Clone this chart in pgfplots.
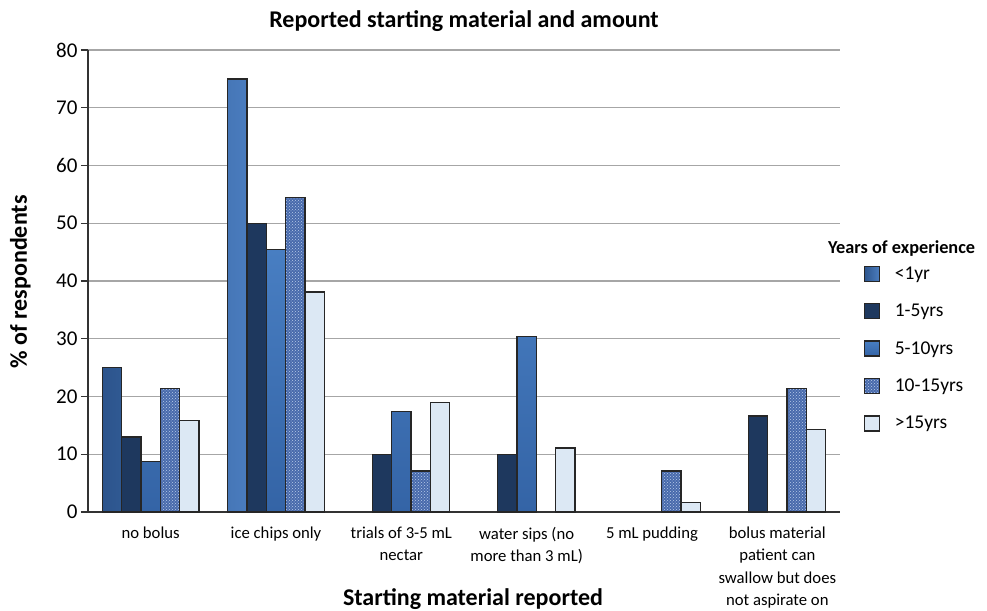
\documentclass[border=0pt]{standalone}
\usepackage{pgfplots}
\pgfplotsset{compat=1.18}
\usepackage{fontspec}
\setmainfont{Carlito}
\usetikzlibrary{patterns}
\definecolor{cA1}{RGB}{44,84,140}
\definecolor{cA2}{RGB}{74,124,190}
\definecolor{cB}{RGB}{30,56,94}
\definecolor{cC1}{RGB}{72,126,194}
\definecolor{cC2}{RGB}{52,100,166}
\definecolor{cD}{RGB}{72,106,172}
\definecolor{cDs}{RGB}{185,203,232}
\definecolor{cE}{RGB}{220,232,244}
\definecolor{gridc}{RGB}{166,166,166}
\begin{document}
\begin{tikzpicture}
\path[use as bounding box] (-88pt,-98pt) rectangle (899pt,512pt);
\begin{axis}[
  at={(0pt,0pt)}, anchor=south west,
  scale only axis, width=752pt, height=462pt,
  ymin=0, ymax=80, ytick={0,10,...,80},
  xmin=-0.5, xmax=5.5,
  xtick={0,1,2,3,4,5},
  xticklabels={no bolus, ice chips only, {trials of 3-5 mL\\nectar}, {water sips (no\\more than 3 mL)}, 5 mL pudding, {bolus material\\patient can\\swallow but does\\not aspirate on}},
  xticklabel style={align=center, font=\fontsize{16.7}{22.2}\selectfont, anchor=north, yshift=-4.5pt},
  xtick style={draw=none},
  yticklabel style={font=\fontsize{21}{23}\selectfont},
  /pgf/number format/assume math mode=true,
  axis x line*=bottom, axis y line*=left,
  axis line style={draw=black!80, line width=1.3pt},
  ytick style={draw=black!80, line width=1.3pt},
  tick align=outside, major tick length=7pt,
  ymajorgrids, major grid style={draw=gridc, line width=1.3pt},
  ybar=0pt, bar width=0.154,
  title={\bfseries Reported starting material and amount},
  title style={at={(0.5,1.05)}, anchor=center, font=\fontsize{24}{26}\selectfont},
  xlabel={\bfseries Starting material reported},
  xlabel style={at={(axis description cs:0.512,-0.188)}, anchor=center, font=\fontsize{24}{26}\selectfont},
  ylabel={\bfseries \% of respondents},
  ylabel style={at={(axis description cs:-0.09,0.498)}, anchor=center, font=\fontsize{24}{26}\selectfont},
  clip=false,
  legend style={at={(rel axis cs:1.027,0.54)}, anchor=north west, draw=none, fill=none,
    font=\fontsize{19.5}{22}\selectfont, row sep=19.3pt, cells={anchor=west}},
  legend image code/.code={\draw[#1, line width=1.3pt] (0pt,-7.5pt) rectangle (15pt,7.5pt); \path (28pt,0pt);},
]
\addplot+[draw=black!85, line width=1.3pt, left color=cA1, right color=cA2] coordinates {(0,25) (1,75)};
\addplot+[draw=black!85, line width=1.3pt, fill=cB] coordinates {(0,13) (1,50) (2,10) (3,10) (5,16.6)};
\addplot+[draw=black!85, line width=1.3pt, top color=cC1, bottom color=cC2] coordinates {(0,8.7) (1,45.5) (2,17.4) (3,30.4)};
\addplot+[draw=black!85, line width=1.3pt, fill=cD, postaction={pattern=crosshatch dots, pattern color=cDs}] coordinates {(0,21.4) (1,54.5) (2,7.1) (4,7.1) (5,21.4)};
\addplot+[draw=black!85, line width=1.3pt, fill=cE] coordinates {(0,15.9) (1,38.1) (2,19.0) (3,11.1) (4,1.6) (5,14.3)};
\legend{<1yr, 1-5yrs, 5-10yrs, 10-15yrs, >15yrs}
\node[font=\fontsize{18.3}{20}\selectfont\bfseries, anchor=center] at (rel axis cs:1.082,0.571) {Years of experience};
\end{axis}
\end{tikzpicture}
\end{document}
